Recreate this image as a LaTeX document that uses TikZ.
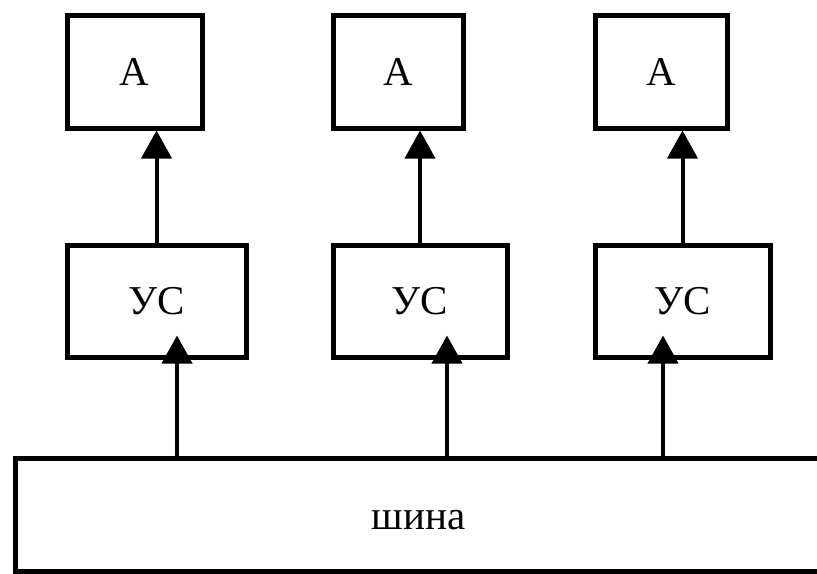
\documentclass[tikz,border=0pt]{standalone}
\usepackage{fontspec}
\setmainfont{Liberation Serif}
\usetikzlibrary{arrows.meta}

\begin{document}
\begin{tikzpicture}[x=0.5pt,y=-0.5pt,
  box/.style={draw,line width=2.5pt,minimum height=56.5pt,inner sep=0pt,
    font=\fontsize{20.5}{24}\selectfont},
  link/.style={line width=2pt,-{Triangle[length=14pt,width=15pt]}}]
\useasboundingbox (0,0) rectangle (817,573);
% top row
\node[box,minimum width=67.5pt] (a1) at (134.5,71.5) {А};
\node[box,minimum width=65pt] (a2) at (398,71.5) {А};
\node[box,minimum width=66pt] (a3) at (661,71.5) {А};
% middle row
\node[box,minimum width=89.5pt,minimum height=56pt] (us1) at (156.5,301) {УС};
\node[box,minimum width=87pt,minimum height=56pt] (us2) at (420,301) {УС};
\node[box,minimum width=87.5pt,minimum height=56pt] (us3) at (682.5,301) {УС};
% bus
\node[box,minimum width=403.5pt,text height=15.4pt,text depth=0pt] (bus) at (418.5,514.5) {шина};
\coordinate (tap1) at (177,458);
\coordinate (tap2) at (447,458);
\coordinate (tap3) at (663,458);

\draw[link] (us1.north) -- (us1.north |- a1.south);
\draw[link] (us2.north) -- (us2.north |- a2.south);
\draw[link] (us3.north) -- (us3.north |- a3.south);

\draw[link,shorten >=-12pt] (tap1) -- (tap1 |- us1.south);
\draw[link,shorten >=-12pt] (tap2) -- (tap2 |- us2.south);
\draw[link,shorten >=-12pt] (tap3) -- (tap3 |- us3.south);
\end{tikzpicture}
\end{document}
